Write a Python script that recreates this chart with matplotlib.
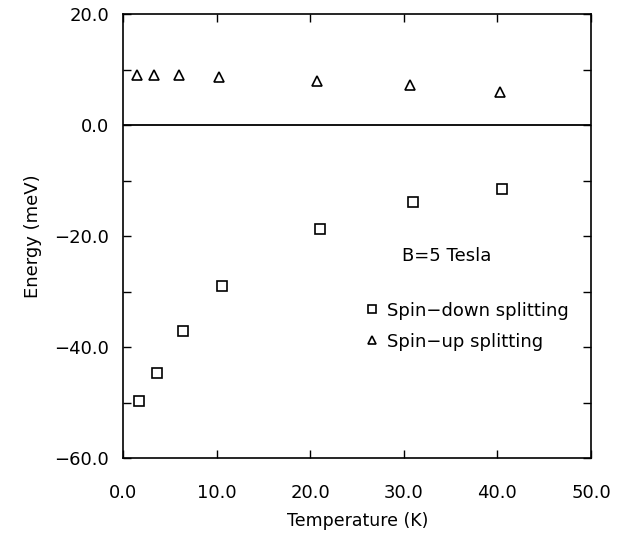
import matplotlib
matplotlib.use('Agg')
from matplotlib import pyplot as plt
from matplotlib.ticker import MultipleLocator, FuncFormatter

plt.rcParams['font.family'] = ['DejaVu Sans']

# temperature (K) and energies (meV)
temp_down = [1.7, 3.6, 6.4, 10.6, 21.0, 31.0, 40.5]
spin_down = [-49.8, -44.6, -37.1, -29.0, -18.7, -13.9, -11.5]
temp_up = [1.5, 3.3, 6.0, 10.3, 20.7, 30.7, 40.3]
spin_up = [9.0, 9.0, 9.0, 8.6, 8.0, 7.2, 5.9]


def fmt(v, pos):
    return ('%.1f' % v).replace('-', '\u2212')


fig = plt.figure(figsize=(6.26, 5.35), dpi=100)
ax = fig.add_axes([0.1965, 0.1439, 0.7475, 0.8299])

ax.plot(temp_down, spin_down, linestyle='none', marker='s', ms=7,
        mfc='white', mec='black', mew=1.2, label='Spin\u2212down splitting')
ax.plot(temp_up, spin_up, linestyle='none', marker='^', ms=7.5,
        mfc='white', mec='black', mew=1.2, label='Spin\u2212up splitting')
ax.axhline(0, color='black', lw=1.3)

ax.set_xlim(0, 50)
ax.set_ylim(-60, 20)
ax.xaxis.set_major_locator(MultipleLocator(10))
ax.yaxis.set_major_locator(MultipleLocator(20))
ax.yaxis.set_minor_locator(MultipleLocator(10))
ax.xaxis.set_major_formatter(FuncFormatter(fmt))
ax.yaxis.set_major_formatter(FuncFormatter(fmt))
ax.tick_params(which='both', direction='in', length=6, width=1,
               top=True, right=True, labelsize=13)
ax.tick_params(axis='x', pad=19)
ax.tick_params(axis='y', pad=10)
for s in ax.spines.values():
    s.set_linewidth(1.2)

# x label placed by hand so it stays inside the picture
fig.text(0.571, 1 - 521 / 535, 'Temperature (K)', fontsize=12.5,
         ha='center', va='center')
ax.set_ylabel('Energy (meV)', fontsize=13, labelpad=9)

ax.text(0.692, 0.455, 'B=5 Tesla', transform=ax.transAxes, fontsize=13,
        ha='center', va='center')
ax.legend(loc='upper left', bbox_to_anchor=(0.513, 0.352), frameon=False,
          fontsize=13, handlelength=1.0, handletextpad=0.35, labelspacing=0.72,
          markerscale=0.75, borderaxespad=0, borderpad=0)

fig.savefig('out.png', dpi=100)
